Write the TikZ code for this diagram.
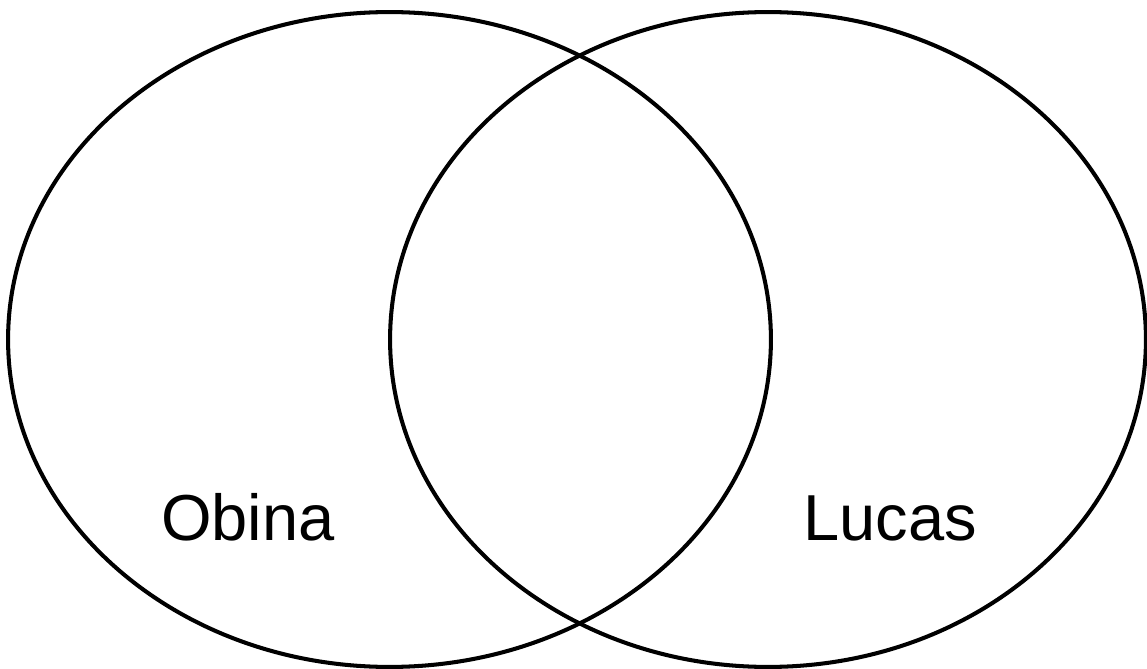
\documentclass[tikz,border=0pt]{standalone}
\usepackage{fontspec}
\setmainfont{Liberation Sans}
\usetikzlibrary{shapes.geometric}

\begin{document}
\begin{tikzpicture}[x=0.02cm, y=-0.02cm,
      set/.style={ellipse, draw=black, line width=2.3pt, inner sep=0pt,
                  outer sep=0pt},
      setname/.style={font=\fontsize{37}{40}\selectfont, anchor=base,
                      inner sep=0pt}
    ]
    \useasboundingbox (0,0) rectangle (1147,669);

    % two sets
    \node[set, minimum width=15.26cm, minimum height=13.1cm]
          (obina) at (389.5, 339.5) {};
    \node[set, minimum width=15.12cm, minimum height=13.1cm]
          (lucas) at (768, 339.5) {};

    % labels
    \node[setname] (obinalbl) at (248, 540) {Obina};
    \node[setname] (lucaslbl) at (890, 540) {Lucas};
  \end{tikzpicture}
\end{document}
